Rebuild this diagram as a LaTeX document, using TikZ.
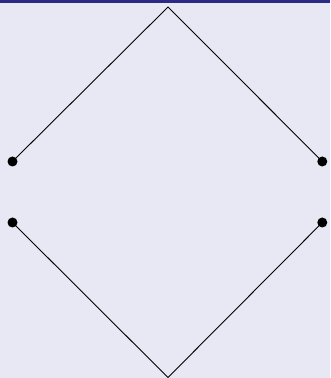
\documentclass[tikz,border=0pt]{standalone}
\definecolor{bgcol}{HTML}{E8E8F4}
\definecolor{barcol}{HTML}{2B2B86}
\begin{document}
\begin{tikzpicture}[x=1pt,y=1pt,
  dot/.style={circle,fill=black,inner sep=0pt,minimum size=10pt},
  edge/.style={draw=black,line width=0.9pt}]
\fill[bgcol] (0,0) rectangle (330,378);
\fill[barcol] (0,375) rectangle (330,378);
\useasboundingbox (0,0) rectangle (330,378);
\coordinate (top) at (168,371);
\coordinate (bot) at (168,0.5);
\node[dot] (ul) at (12.5,216.5) {};
\node[dot] (ur) at (322.3,216.5) {};
\node[dot] (ll) at (12.5,155.5) {};
\node[dot] (lr) at (322.3,155.5) {};
\draw[edge] (ul.center) -- (top) -- (ur.center);
\draw[edge] (ll.center) -- (bot) -- (lr.center);
\end{tikzpicture}
\end{document}
